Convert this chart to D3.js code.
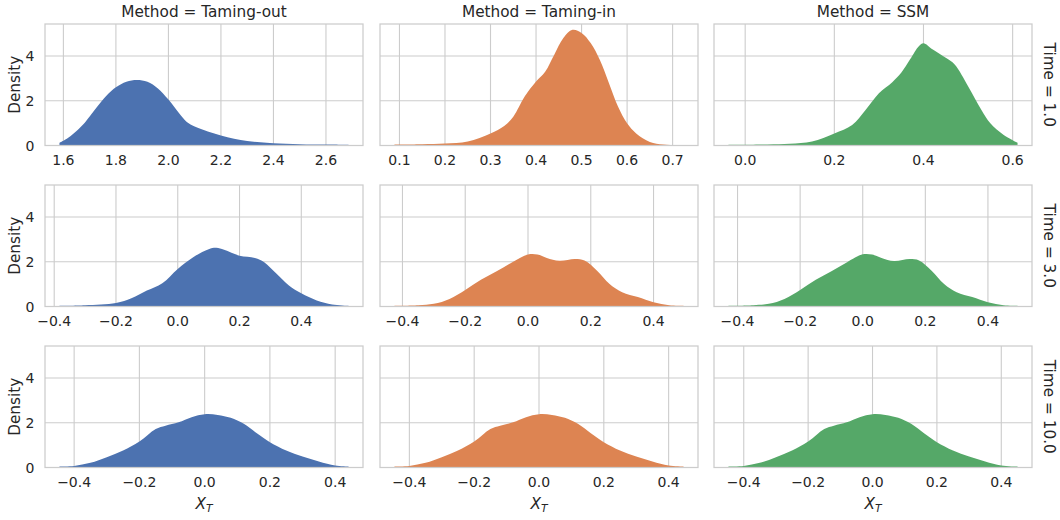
<!DOCTYPE html>
<html>
<head>
<meta charset="utf-8">
<script src="https://cdn.jsdelivr.net/npm/d3@7"></script>
<style>
  html, body { margin: 0; padding: 0; background: #fff; }
  svg { display: block; font-family: "DejaVu Sans", sans-serif; }
</style>
</head>
<body>
<svg id="chart" width="1060" height="520"></svg>
<script>
// ---------------- DATA ----------------
const methods = ["Taming-out", "Taming-in", "SSM"];
const times = ["1.0", "3.0", "10.0"];
const colors = ["#4C72B0", "#DD8452", "#55A868"];
const yTicks = [0, 2, 4];

// Time = 1.0
const x_tamingOut_t1 = [1.585,1.613,1.64,1.676,1.70,1.74,1.77,1.80,1.84,1.88,1.92,1.96,2.00,2.04,2.07,2.10,2.15,2.20,2.25,2.30,2.35,2.40,2.50,2.60,2.686];
const d_tamingOut_t1 = [0.12,0.30,0.55,0.95,1.30,1.90,2.30,2.60,2.85,2.93,2.85,2.55,2.05,1.45,1.05,0.85,0.63,0.45,0.30,0.20,0.14,0.10,0.06,0.04,0.03];
const x_tamingIn_t1 = [0.089,0.15,0.20,0.25,0.30,0.33,0.35,0.375,0.40,0.42,0.44,0.46,0.48,0.50,0.52,0.54,0.56,0.58,0.60,0.62,0.65,0.68,0.724];
const d_tamingIn_t1 = [0.04,0.06,0.09,0.18,0.54,0.87,1.29,2.19,2.86,3.30,4.06,4.80,5.17,5.03,4.58,3.83,2.79,1.74,0.99,0.54,0.16,0.04,0.02];
const x_ssm_t1 = [-0.0375,0.05,0.10,0.15,0.20,0.24,0.27,0.30,0.33,0.35,0.37,0.39,0.40,0.42,0.45,0.47,0.50,0.53,0.55,0.58,0.611];
const d_ssm_t1 = [0.03,0.05,0.08,0.18,0.54,0.92,1.59,2.34,2.83,3.25,3.85,4.45,4.57,4.30,3.92,3.62,2.65,1.59,0.99,0.47,0.12];

// Time = 3.0
const x_tamingOut_t3 = [-0.383,-0.30,-0.20,-0.15,-0.10,-0.05,0.0,0.05,0.10,0.125,0.15,0.20,0.25,0.28,0.32,0.36,0.40,0.45,0.50,0.553];
const d_tamingOut_t3 = [0.03,0.06,0.16,0.37,0.71,1.04,1.68,2.20,2.56,2.62,2.53,2.27,2.17,1.98,1.46,0.94,0.59,0.27,0.09,0.03];
const x_tamingIn_t3 = [-0.4255,-0.35,-0.30,-0.25,-0.20,-0.15,-0.10,-0.05,0.0,0.03,0.06,0.10,0.15,0.18,0.22,0.26,0.30,0.35,0.40,0.45,0.4956];
const d_tamingIn_t3 = [0.03,0.06,0.12,0.34,0.74,1.19,1.57,1.98,2.32,2.32,2.17,2.04,2.12,2.05,1.60,1.01,0.64,0.42,0.19,0.06,0.03];
const x_ssm_t3 = [-0.429,-0.35,-0.30,-0.25,-0.20,-0.15,-0.10,-0.05,0.0,0.03,0.06,0.10,0.15,0.18,0.22,0.26,0.30,0.35,0.40,0.45,0.4946];
const d_ssm_t3 = [0.03,0.06,0.12,0.34,0.74,1.19,1.57,1.98,2.33,2.32,2.17,2.03,2.12,2.06,1.60,1.01,0.64,0.42,0.19,0.06,0.03];

// Time = 10.0
const x_tamingOut_t10 = [-0.445,-0.40,-0.35,-0.30,-0.25,-0.20,-0.15,-0.12,-0.08,-0.04,0.0,0.04,0.08,0.12,0.16,0.20,0.25,0.30,0.35,0.40,0.441];
const d_tamingOut_t10 = [0.04,0.07,0.21,0.46,0.76,1.16,1.72,1.87,2.02,2.25,2.38,2.35,2.22,1.95,1.53,1.13,0.76,0.49,0.27,0.09,0.04];
const x_tamingIn_t10 = [-0.446,-0.40,-0.35,-0.30,-0.25,-0.20,-0.15,-0.12,-0.08,-0.04,0.0,0.04,0.08,0.12,0.16,0.20,0.25,0.30,0.35,0.40,0.446];
const d_tamingIn_t10 = [0.04,0.07,0.21,0.46,0.76,1.16,1.72,1.87,2.02,2.25,2.38,2.35,2.22,1.95,1.53,1.13,0.76,0.49,0.27,0.09,0.04];
const x_ssm_t10 = [-0.4475,-0.40,-0.35,-0.30,-0.25,-0.20,-0.15,-0.12,-0.08,-0.04,0.0,0.04,0.08,0.12,0.16,0.20,0.25,0.30,0.35,0.40,0.4505];
const d_ssm_t10 = [0.04,0.07,0.21,0.46,0.76,1.16,1.72,1.87,2.02,2.25,2.38,2.35,2.22,1.95,1.53,1.13,0.76,0.49,0.27,0.09,0.04];

// x tick values per panel [row][col]
const xTicks_t1 = [[1.6,1.8,2.0,2.2,2.4,2.6],[0.1,0.2,0.3,0.4,0.5,0.6,0.7],[0.0,0.2,0.4,0.6]];
const xTicks_t3 = [[-0.4,-0.2,0.0,0.2,0.4],[-0.4,-0.2,0.0,0.2,0.4],[-0.4,-0.2,0.0,0.2,0.4]];
const xTicks_t10 = [[-0.4,-0.2,0.0,0.2,0.4],[-0.4,-0.2,0.0,0.2,0.4],[-0.4,-0.2,0.0,0.2,0.4]];

// ---------------- LAYOUT ----------------
const panels = [
  [[x_tamingOut_t1,d_tamingOut_t1],[x_tamingIn_t1,d_tamingIn_t1],[x_ssm_t1,d_ssm_t1]],
  [[x_tamingOut_t3,d_tamingOut_t3],[x_tamingIn_t3,d_tamingIn_t3],[x_ssm_t3,d_ssm_t3]],
  [[x_tamingOut_t10,d_tamingOut_t10],[x_tamingIn_t10,d_tamingIn_t10],[x_ssm_t10,d_ssm_t10]]
];
const xTicksAll = [xTicks_t1, xTicks_t3, xTicks_t10];

const colLeft = [45, 380, 714];
const panelW = 318;
const rowTop = [24, 185, 346];
const panelH = 121.5;
const textColor = "#262626";
const gridColor = "#cccccc";

const svg = d3.select("#chart");

const allD = panels.flat().flatMap(p => p[1]);
const yMax = d3.max(allD) * 1.05;

const fmtTick = v => {
  const s = d3.format(".1f")(Math.abs(v));
  return (v < 0 ? "\u2212" : "") + s;
};

panels.forEach((row, r) => {
  row.forEach((panel, c) => {
    const [xs, ds] = panel;
    const x0 = d3.min(xs), x1 = d3.max(xs);
    const pad = (x1 - x0) * 0.05;
    const x = d3.scaleLinear().domain([x0 - pad, x1 + pad]).range([0, panelW]);
    const y = d3.scaleLinear().domain([0, yMax]).range([panelH, 0]);
    const g = svg.append("g").attr("transform", `translate(${colLeft[c]},${rowTop[r]})`);

    g.append("rect").attr("width", panelW).attr("height", panelH).attr("fill", "#fff");

    // grid
    const ticks = xTicksAll[r][c];
    g.selectAll(".gx").data(ticks).join("line")
      .attr("x1", d => x(d)).attr("x2", d => x(d))
      .attr("y1", 0).attr("y2", panelH)
      .attr("stroke", gridColor).attr("stroke-width", 1.1);
    g.selectAll(".gy").data(yTicks).join("line")
      .attr("x1", 0).attr("x2", panelW)
      .attr("y1", d => y(d)).attr("y2", d => y(d))
      .attr("stroke", gridColor).attr("stroke-width", 1.1);

    // area
    const pts = xs.map((v, i) => [v, ds[i]]);
    const area = d3.area()
      .x(d => x(d[0])).y0(y(0)).y1(d => y(d[1]))
      .curve(d3.curveCatmullRom.alpha(0.5));
    g.append("path").datum(pts).attr("d", area).attr("fill", colors[c]).attr("stroke", "none");

    // frame
    g.append("rect").attr("width", panelW).attr("height", panelH)
      .attr("fill", "none").attr("stroke", gridColor).attr("stroke-width", 1.25);

    // x tick labels
    g.selectAll(".xt").data(ticks).join("text")
      .attr("x", d => x(d)).attr("y", panelH + 19.7)
      .attr("text-anchor", "middle").attr("font-size", "14px").attr("fill", textColor)
      .text(fmtTick);

    // y tick labels (first column)
    if (c === 0) {
      g.selectAll(".yt").data(yTicks).join("text")
        .attr("x", -10.5).attr("y", d => y(d) + 5)
        .attr("text-anchor", "end").attr("font-size", "14px").attr("fill", textColor)
        .text(d => d);
      g.append("text")
        .attr("transform", `translate(${19.5 - colLeft[0]},${panelH / 2}) rotate(-90)`)
        .attr("text-anchor", "middle").attr("font-size", "15.3px").attr("fill", textColor)
        .text("Density");
    }

    // column titles
    if (r === 0) {
      g.append("text").attr("x", panelW / 2).attr("y", -6.8)
        .attr("text-anchor", "middle").attr("font-size", "15.3px").attr("fill", textColor)
        .text(`Method = ${methods[c]}`);
    }

    // row labels
    if (c === 2) {
      g.append("text")
        .attr("transform", `translate(${1044 - colLeft[2]},${panelH / 2}) rotate(90)`)
        .attr("text-anchor", "middle").attr("font-size", "15.3px").attr("fill", textColor)
        .text(`Time = ${times[r]}`);
    }

    // x label
    if (r === 2) {
      const t = g.append("text").attr("x", panelW / 2).attr("y", panelH + 41)
        .attr("text-anchor", "middle").attr("font-size", "15.3px").attr("fill", textColor);
      t.append("tspan").attr("font-style", "italic").text("X");
      t.append("tspan").attr("font-style", "italic").attr("font-size", "10.7px").attr("dy", 3).text("T");
    }
  });
});
</script>
</body>
</html>
